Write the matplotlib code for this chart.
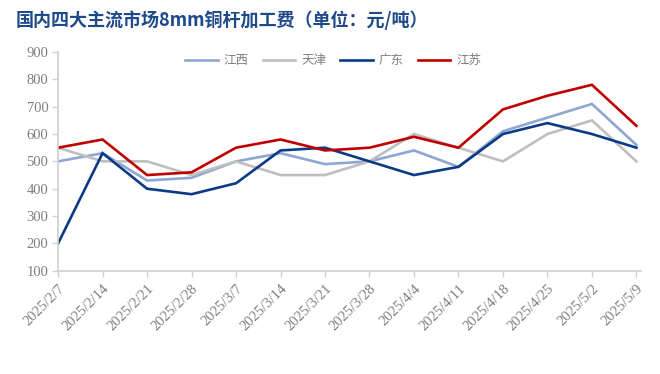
#!/usr/bin/env python3
"""8mm copper rod processing fee, four main domestic markets (weekly)."""
import matplotlib
matplotlib.use("Agg")
import matplotlib.pyplot as plt

dates = ["2025/2/7", "2025/2/14", "2025/2/21", "2025/2/28", "2025/3/7",
         "2025/3/14", "2025/3/21", "2025/3/28", "2025/4/4", "2025/4/11",
         "2025/4/18", "2025/4/25", "2025/5/2", "2025/5/9"]
jiangxi   = [500, 530, 430, 440, 500, 530, 490, 500, 540, 480, 610, 660, 710, 560]
tianjin   = [550, 500, 500, 450, 500, 450, 450, 500, 600, 550, 500, 600, 650, 500]
guangdong = [200, 530, 400, 380, 420, 540, 550, 500, 450, 480, 600, 640, 600, 550]
jiangsu   = [550, 580, 450, 460, 550, 580, 540, 550, 590, 550, 690, 740, 780, 630]
yticks = list(range(100, 1000, 100))

SERIES = [("江西", jiangxi, "#8fa6d0"),
          ("天津", tianjin, "#bfbfbf"),
          ("广东", guangdong, "#0b3a86"),
          ("江苏", jiangsu, "#c00000")]

CJK = ["Noto Sans CJK SC", "DejaVu Sans"]
AXIS_GREY = "#d0d0d0"
TEXT_GREY = "#7f7f7f"

fig = plt.figure(figsize=(6.6, 3.74), dpi=100)
ax = fig.add_axes([0.088, 0.276, 0.883, 0.585])

x = list(range(len(dates)))
for name, vals, col in SERIES:
    ax.plot(x, vals, color=col, lw=1.9, label=name, solid_joinstyle="miter")

ax.set_xlim(0, len(dates) - 1 + 0.1)
ax.set_ylim(100, 900)
ax.set_yticks(yticks)
ax.set_xticks(x)
ax.set_xticklabels(dates, rotation=45, ha="right", va="top",
                   rotation_mode="anchor")

for s in ("top", "right"):
    ax.spines[s].set_visible(False)
for s in ("left", "bottom"):
    ax.spines[s].set_color(AXIS_GREY)
    ax.spines[s].set_linewidth(1.2)
ax.tick_params(axis="both", colors=AXIS_GREY, length=4, width=1.0,
               direction="out")
for lab in ax.get_xticklabels() + ax.get_yticklabels():
    lab.set_family("Liberation Serif")
    lab.set_color(TEXT_GREY)
    lab.set_fontsize(10.5)
ax.tick_params(axis="x", pad=4)
ax.tick_params(axis="y", pad=3)

leg = ax.legend(loc="center", bbox_to_anchor=(0.472, 0.96), ncol=4,
                frameon=False, handlelength=2.6, handletextpad=0.5,
                columnspacing=1.1, prop={"family": CJK, "size": 9})
for t in leg.get_texts():
    t.set_color(TEXT_GREY)

fig.text(0.023, 0.945, "国内四大主流市场8mm铜杆加工费（单位：元/吨）",
         family=CJK, fontsize=13, fontweight="bold", color="#1f4a8a",
         ha="left", va="center")

fig.savefig("out.png", dpi=100, facecolor="white")
